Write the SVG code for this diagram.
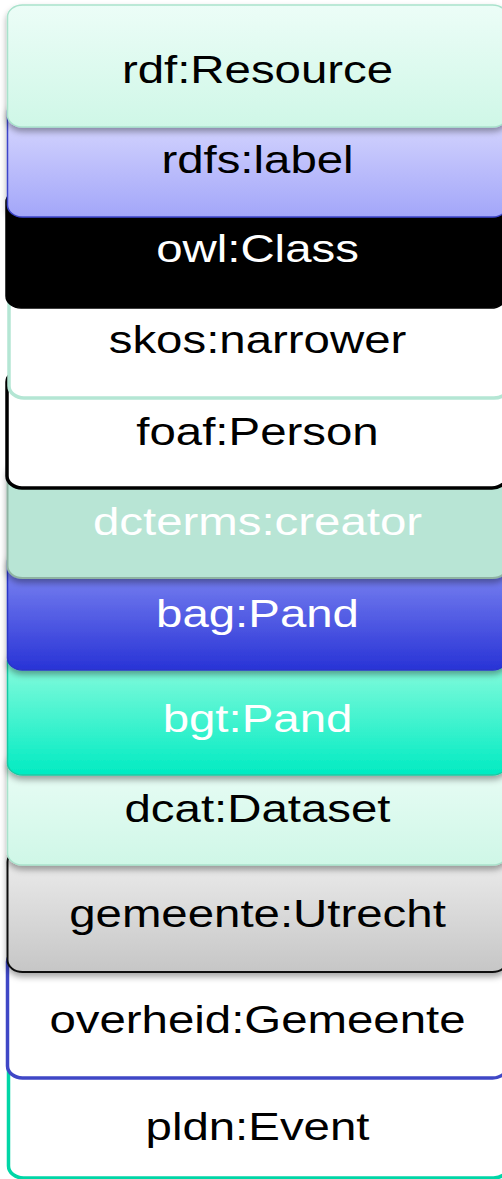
<svg xmlns="http://www.w3.org/2000/svg" width="502" height="1179" viewBox="0 0 502 1179">
<style>
  text { font-family: "Liberation Sans", Arial, sans-serif; font-size: 39.5px; text-anchor: middle; }
  .dk { fill: #000000; }
  .lt { fill: #ffffff; }
  .box { rx: 15px; ry: 12px; }
</style>
<defs>
  <linearGradient id="gMint" x1="0" y1="0" x2="0" y2="1">
    <stop offset="0" stop-color="#ecfdf7"/>
    <stop offset="1" stop-color="#cff7e7"/>
  </linearGradient>
  <linearGradient id="gLav" x1="0" y1="0" x2="0" y2="1">
    <stop offset="0" stop-color="#dedeff"/>
    <stop offset="1" stop-color="#a3a6f9"/>
  </linearGradient>
  <linearGradient id="gBlue" x1="0" y1="0" x2="0" y2="1">
    <stop offset="0" stop-color="#8a92f6"/>
    <stop offset="1" stop-color="#2833d6"/>
  </linearGradient>
  <linearGradient id="gTeal" x1="0" y1="0" x2="0" y2="1">
    <stop offset="0" stop-color="#86fbde"/>
    <stop offset="0.15" stop-color="#80fadb"/>
    <stop offset="1" stop-color="#00ebc2"/>
  </linearGradient>
  <linearGradient id="gGray" x1="0" y1="0" x2="0" y2="1">
    <stop offset="0" stop-color="#eeeeee"/>
    <stop offset="1" stop-color="#c6c6c6"/>
  </linearGradient>
  <filter id="sh" x="-5%" y="-10%" width="110%" height="125%">
    <feDropShadow dx="0" dy="4" stdDeviation="3" flood-color="#000" flood-opacity="0.35"/>
  </filter>
</defs>

<g id="pldn-event">
  <rect class="box" x="8.5" y="1050" width="500" height="128" fill="#ffffff" stroke="#00d6a6" stroke-width="3.5"/>
  <text class="dk" transform="translate(257.5,1140) scale(1.2,1)">pldn:Event</text>
</g>
<g id="overheid-gemeente">
  <rect class="box" x="7.5" y="950" width="500" height="128" fill="#ffffff" stroke="#3f47c6" stroke-width="3.5"/>
  <text class="dk" transform="translate(257.5,1033) scale(1.2,1)">overheid:Gemeente</text>
</g>
<g id="gemeente-utrecht">
  <rect class="box" x="7.5" y="850" width="500" height="122" fill="url(#gGray)" stroke="#111111" stroke-width="2" filter="url(#sh)"/>
  <text class="dk" transform="translate(257.5,927) scale(1.2,1)">gemeente:Utrecht</text>
</g>
<g id="dcat-dataset">
  <rect class="box" x="7.5" y="750" width="500" height="115" fill="url(#gMint)" stroke="#a9e2cc" stroke-width="1.5" filter="url(#sh)"/>
  <text class="dk" transform="translate(257.5,822) scale(1.2,1)">dcat:Dataset</text>
</g>
<g id="bgt-pand">
  <rect class="box" x="7.5" y="650" width="500" height="125" fill="url(#gTeal)" stroke="#18c9a4" stroke-width="1.5" filter="url(#sh)"/>
  <text class="lt" transform="translate(257.5,732) scale(1.2,1)">bgt:Pand</text>
</g>
<g id="bag-pand">
  <rect class="box" x="7.5" y="550" width="500" height="120" fill="url(#gBlue)" stroke="#2b34c8" stroke-width="1.5" filter="url(#sh)"/>
  <text class="lt" transform="translate(257.5,627) scale(1.2,1)">bag:Pand</text>
</g>
<g id="dcterms-creator">
  <rect class="box" x="7.5" y="460" width="500" height="118" fill="#b8e5d5" stroke="#8fb3a3" stroke-width="2" filter="url(#sh)"/>
  <text class="lt" transform="translate(257.5,535) scale(1.2,1)">dcterms:creator</text>
</g>
<g id="foaf-person">
  <rect class="box" x="7" y="370" width="500" height="118" fill="#ffffff" stroke="#000000" stroke-width="3.5"/>
  <text class="dk" transform="translate(257.5,445) scale(1.2,1)">foaf:Person</text>
</g>
<g id="skos-narrower">
  <rect class="box" x="9" y="280" width="500" height="118" fill="#ffffff" stroke="#b4e6d4" stroke-width="3.5"/>
  <text class="dk" transform="translate(257.5,353) scale(1.2,1)">skos:narrower</text>
</g>
<g id="owl-class">
  <rect class="box" x="6" y="190" width="500" height="118" fill="#000000" stroke="#000000" stroke-width="1.5"/>
  <text class="lt" transform="translate(257.5,262) scale(1.2,1)">owl:Class</text>
</g>
<g id="rdfs-label">
  <rect class="box" x="7.5" y="100" width="500" height="117" fill="url(#gLav)" stroke="#3c45c9" stroke-width="1.5" filter="url(#sh)"/>
  <text class="dk" transform="translate(257.5,173) scale(1.2,1)">rdfs:label</text>
</g>
<g id="rdf-resource">
  <rect class="box" x="7.5" y="5" width="500" height="122" fill="url(#gMint)" stroke="#a9e2cc" stroke-width="1.5" filter="url(#sh)"/>
  <text class="dk" transform="translate(257.5,82.7) scale(1.2,1)">rdf:Resource</text>
</g>
</svg>
